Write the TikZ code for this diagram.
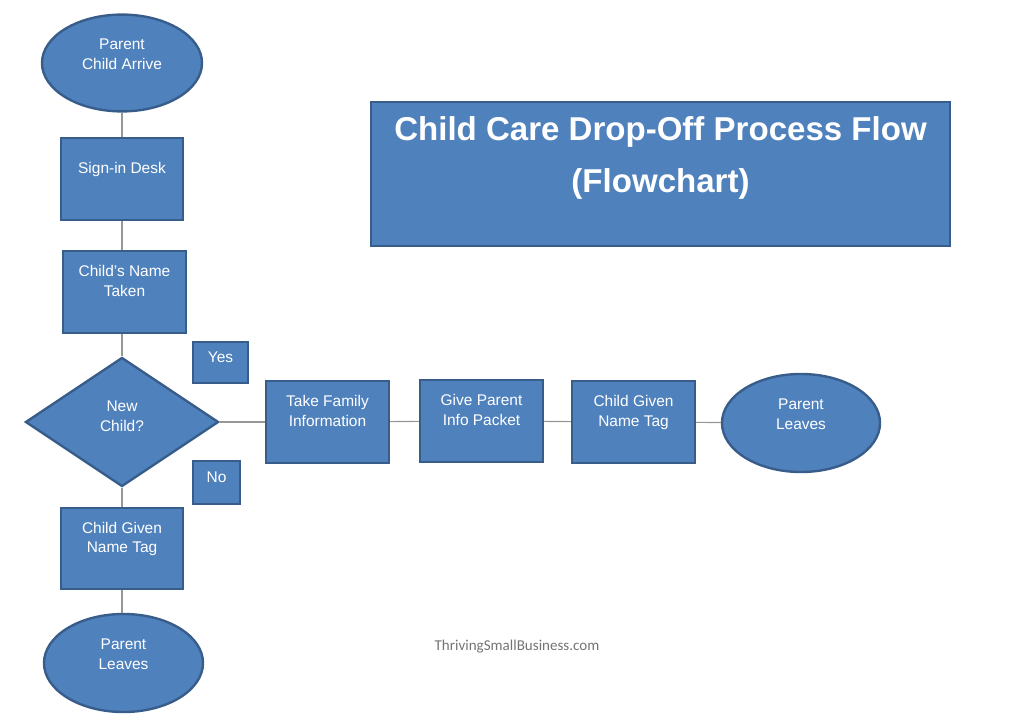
\documentclass[tikz,border=0pt]{standalone}
\usepackage{fontspec}
\setmainfont{Liberation Sans}
\newfontfamily\markfont{Carlito}
\usetikzlibrary{shapes.geometric}
\definecolor{boxblue}{RGB}{79,129,189}
\definecolor{boxedge}{RGB}{56,93,138}
\definecolor{linegray}{RGB}{150,150,150}
\definecolor{markgray}{RGB}{115,115,115}

\begin{document}
\begin{tikzpicture}[x=0.025cm, y=-0.025cm,
  every node/.style={font=\fontsize{11}{14}\selectfont, text=white, align=center, inner sep=0pt},
  shapebase/.style={draw=boxedge, fill=boxblue, line width=1.7pt},
  stepbox/.style={shapebase, rectangle, minimum width=3.05cm, minimum height=2.05cm, text depth=16pt},
  endcap/.style={shapebase, ellipse, minimum width=4cm, minimum height=2.42cm, text depth=13pt},
  choice/.style={shapebase, diamond, minimum width=4.825cm, minimum height=3.225cm, text depth=8pt},
  answer/.style={shapebase, rectangle, text depth=8pt},
  link/.style={draw=linegray, line width=0.8pt}]
  \useasboundingbox (0,0) rectangle (1024,720);

  % main column
  \node[endcap] (arrive) at (122,63) {Parent\\Child Arrive};
  \node[stepbox] (signin) at (122,179) {Sign-in Desk};
  \node[stepbox, minimum width=3.075cm] (name) at (124.5,292) {Child's Name\\Taken};
  \node[choice] (newchild) at (122,422) {New\\Child?};
  \node[stepbox, minimum height=2.025cm] (tagleft) at (122,548.5) {Child Given\\Name Tag};
  \node[endcap, minimum width=3.975cm, minimum height=2.45cm] (leavesleft) at (123.5,663) {Parent\\Leaves};

  % answers
  \node[answer, minimum width=1.375cm, minimum height=1.025cm] (yes) at (220.5,362.5) {Yes};
  \node[answer, minimum width=1.175cm, minimum height=1.075cm] (no) at (216.5,482.5) {No};

  % yes branch
  \node[stepbox, minimum width=3.075cm] (family) at (327.5,422) {Take Family\\Information};
  \node[stepbox, minimum width=3.075cm] (packet) at (481.5,421) {Give Parent\\Info Packet};
  \node[stepbox, minimum width=3.075cm] (tagright) at (633.5,422) {Child Given\\Name Tag};
  \node[endcap, minimum width=3.95cm, minimum height=2.45cm] (leavesright) at (801,423) {Parent\\Leaves};

  % title
  \node[shapebase, rectangle, minimum width=14.475cm, minimum height=3.6cm, text depth=28pt,
        font=\fontsize{23.5}{37}\bfseries\selectfont] (title) at (660.5,174)
        {Child Care Drop-Off Process Flow\\(Flowchart)};

  \node[text=markgray, font=\markfont\fontsize{10.7}{12}\selectfont] (mark) at (517,647) {ThrivingSmallBusiness.com};

  % connectors
  \draw[link] (arrive.south) -- (arrive.south |- signin.north);
  \draw[link] (signin.south) -- (signin.south |- name.north);
  \draw[link] (signin.south |- name.south) -- (signin.south |- newchild.north);
  \draw[link] (newchild.south) -- (newchild.south |- tagleft.north);
  \draw[link] (tagleft.south) -- (tagleft.south |- leavesleft.north);
  \draw[link] (newchild.east) -- (family.west);
  \draw[link] (family) -- (packet);
  \draw[link] (packet) -- (tagright);
  \draw[link] (tagright) -- (leavesright);
\end{tikzpicture}
\end{document}
